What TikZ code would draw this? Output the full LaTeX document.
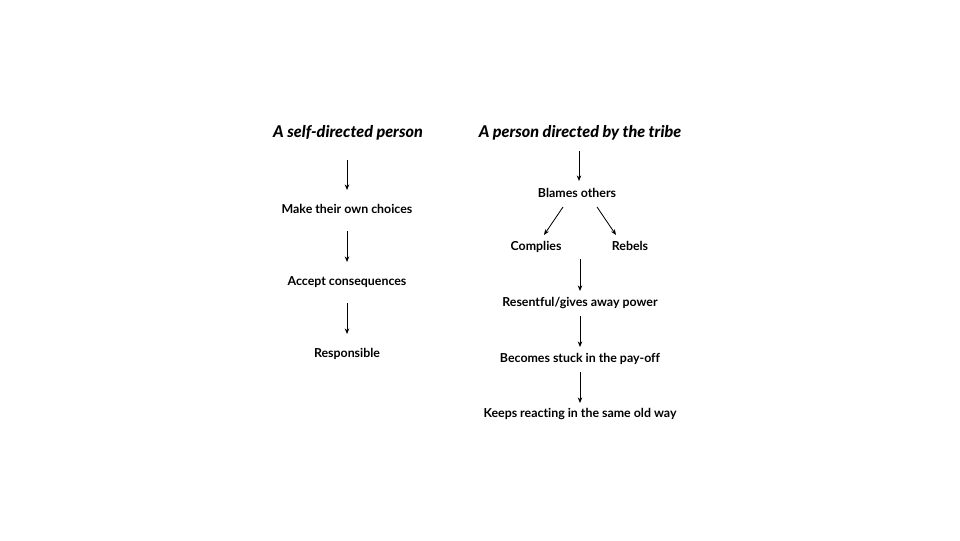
\documentclass[tikz,border=0pt]{standalone}
\usepackage{fontspec}
\setmainfont{Lato}[Ligatures={NoCommon,TeX}]
\newfontfamily\headfont{Lato Black}[ItalicFont={Lato Black Italic}, Ligatures={NoCommon,TeX}]
\usetikzlibrary{arrows.meta}

\begin{document}
\begin{tikzpicture}[x=0.025cm, y=-0.025cm,
    head/.style={font=\fontsize{11.5}{12}\selectfont\headfont\itshape, inner sep=1pt},
    item/.style={font=\fontsize{8.8}{10}\selectfont\bfseries, inner sep=1pt,
                 text height=1.6ex, text depth=0.45ex},
    flow/.style={draw=black, line width=0.6pt, -{Stealth[length=4pt, width=3.2pt]}}]
  \useasboundingbox (0,0) rectangle (960,540);
  % --- left column: the self-directed person -------------------------------
  \node[head] (sd)  at (348,133) {A self-directed person};
  \node[item] (own) at (347,209) {Make their own choices};
  \node[item] (acc) at (347,281) {Accept consequences};
  \node[item] (rsp) at (347,353) {Responsible};
  \draw[flow] (own.north |- 0,160) -- (own.north |- 0,190);
  \draw[flow] (own.south |- 0,231) -- (acc.north |- 0,262);
  \draw[flow] (acc.south |- 0,303) -- (rsp.north |- 0,334);
  % --- right column: directed by the tribe ---------------------------------
  \node[head] (tr)  at (580,133) {A person directed by the tribe};
  \node[item] (bl)  at (577,193) {Blames others};
  \node[item] (cp)  at (536,246) {Complies};
  \node[item] (rb)  at (630,246) {Rebels};
  \node[item] (res) at (580,302) {Resentful/gives away power};
  \node[item] (stk) at (580,358) {Becomes stuck in the pay-off};
  \node[item] (kp)  at (580,413) {Keeps reacting in the same old way};
  \coordinate (split) at (580,259);
  \draw[flow] (579,151) -- (579,181);
  \draw[flow] (563,207) -- (544,235);
  \draw[flow] (597,207) -- (616,235);
  \draw[flow] (split) -- (res.north |- 0,291);
  \draw[flow] (res.south |- 0,316) -- (stk.north |- 0,347);
  \draw[flow] (stk.south |- 0,372) -- (kp.north |- 0,403);
\end{tikzpicture}
\end{document}
